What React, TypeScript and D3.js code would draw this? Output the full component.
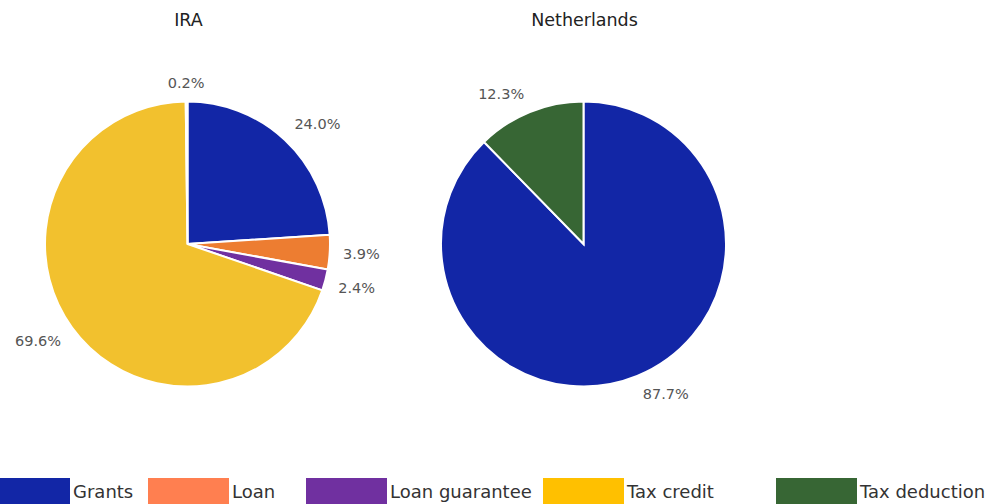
import React from 'react';
import * as d3 from 'd3';

const CATEGORIES = ['Grants', 'Loan', 'Loan guarantee', 'Tax credit', 'Tax deduction'];
const IRA_VALUES = [24.0, 3.9, 2.4, 69.6, 0.2];
const NL_VALUES = [87.7, 0, 0, 0, 12.3];
const PIES = [
  { title: 'IRA', values: IRA_VALUES },
  { title: 'Netherlands', values: NL_VALUES },
];

const SLICE_COLORS = ['#1226A6', '#ED7D31', '#7030A0', '#F2C12E', '#376634'];
const LEGEND_COLORS = ['#1226A6', '#FF7F50', '#7030A0', '#FFC000', '#376634'];
// legend item positions (swatch left edge)
const LEGEND_X = [-11, 148, 306, 543, 776];

const W = 988;
const H = 504;
const FONT = '"DejaVu Sans", Verdana, sans-serif';

const Pie = ({ title, values, cx, cy, r }: { title: string; values: number[]; cx: number; cy: number; r: number }) => {
  const data = values.map((v, i) => ({ v, i })).filter(d => d.v > 0);
  const arcs = d3.pie<{ v: number; i: number }>().value(d => d.v).sort(null)(data);
  const arc = d3.arc<d3.PieArcDatum<{ v: number; i: number }>>().innerRadius(0).outerRadius(r);
  const labelR = r + 12.5;
  const fs = 14.5;
  return (
    <g>
      <text x={cx + 1} y={26} textAnchor="middle" fontSize={17.5} fill="#222" fontFamily={FONT}>{title}</text>
      <g transform={`translate(${cx},${cy})`}>
        {arcs.map(a => (
          <path key={a.data.i} d={arc(a) || ''} fill={SLICE_COLORS[a.data.i]} stroke="#fff" strokeWidth={2} />
        ))}
        {arcs.map(a => {
          const m = (a.startAngle + a.endAngle) / 2;
          const s = Math.sin(m);
          const c = Math.cos(m);
          const label = `${a.data.v.toFixed(1)}%`;
          const w = label.length * fs * 0.66;
          const h = fs * 0.9;
          const px = labelR * s + Math.max(-1, Math.min(1, s * 3)) * w / 2;
          const py = -labelR * c + Math.max(-1, Math.min(1, -c * 3)) * h / 2;
          return (
            <text key={'l' + a.data.i} x={px} y={py} dy="0.35em" textAnchor="middle" fontSize={fs} fill="#555" fontFamily={FONT}>{label}</text>
          );
        })}
      </g>
    </g>
  );
};

export default function App() {
  return (
    <svg width={W} height={H} style={{ position: 'absolute', left: 0, top: 0, background: '#fff' }}>
      <rect width={W} height={H} fill="#fff" />
      <Pie title={PIES[0].title} values={PIES[0].values} cx={187.5} cy={244} r={142.5} />
      <Pie title={PIES[1].title} values={PIES[1].values} cx={583.5} cy={244} r={142.5} />
      <g>
        {CATEGORIES.map((c, i) => (
          <g key={c} transform={`translate(${LEGEND_X[i]},478)`}>
            <rect width={81} height={27} fill={LEGEND_COLORS[i]} />
            <text x={84} y={13.5} dy="0.35em" fontSize={18} fill="#333" fontFamily={FONT}>{c}</text>
          </g>
        ))}
      </g>
    </svg>
  );
}
